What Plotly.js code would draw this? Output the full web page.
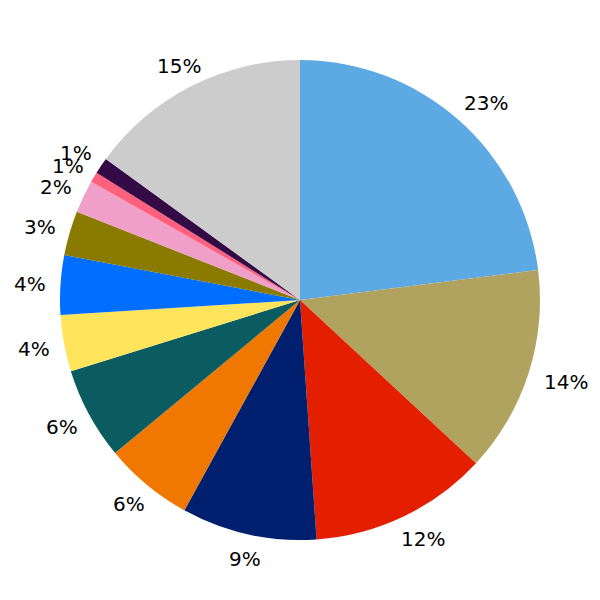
<!DOCTYPE html>
<html>
<head>
<meta charset="utf-8">
<script src="https://cdn.plot.ly/plotly-3.0.1.min.js"></script>
<style>html,body{margin:0;padding:0;background:#fff;}#chart{width:600px;height:600px;}</style>
</head>
<body>
<div id="chart"></div>
<script>
const categories = ["A","B","C","D","E","F","G","H","I","J","K","L","M"];
const values = [23.0, 13.9, 12.0, 9.1, 6.0, 6.2, 3.8, 4.0, 3.0, 2.2, 0.7, 1.1, 15.0];
const colors = ["#5DA9E4","#B0A35F","#E41F00","#001F6E","#F07800","#0B5C61","#FFE45C","#006EFF","#8A7A00","#F0A0C8","#FF607E","#330A45","#CCCCCC"];

// label placement (fraction of figure from the pie centre)
const labelDistX = 275 / 600;
const labelDistY = 264 / 600;
const total = values.reduce((a, b) => a + b, 0);
let cum = 0;
const annotations = values.map((v) => {
  const mid = (cum + v / 2) / total * 2 * Math.PI;
  cum += v;
  return {
    xref: "paper", yref: "paper",
    x: 0.5 + labelDistX * Math.sin(mid),
    y: 0.5 + labelDistY * Math.cos(mid),
    xanchor: "center", yanchor: "middle",
    xshift: 4, yshift: -1,
    text: Math.round(v / total * 100) + "%",
    showarrow: false,
    font: {family: "DejaVu Sans", size: 20, color: "#000"}
  };
});

Plotly.newPlot("chart", [{
  type: "pie",
  labels: categories,
  values: values,
  marker: {colors: colors, line: {width: 0}},
  sort: false,
  direction: "clockwise",
  rotation: 0,
  textinfo: "none",
  hoverinfo: "none",
  showlegend: false,
  domain: {x: [0.1, 0.9], y: [0.1, 0.9]}
}], {
  width: 600, height: 600,
  margin: {l: 0, r: 0, t: 0, b: 0},
  paper_bgcolor: "#fff",
  showlegend: false,
  annotations: annotations
}, {displayModeBar: false, staticPlot: true});
</script>
</body>
</html>
